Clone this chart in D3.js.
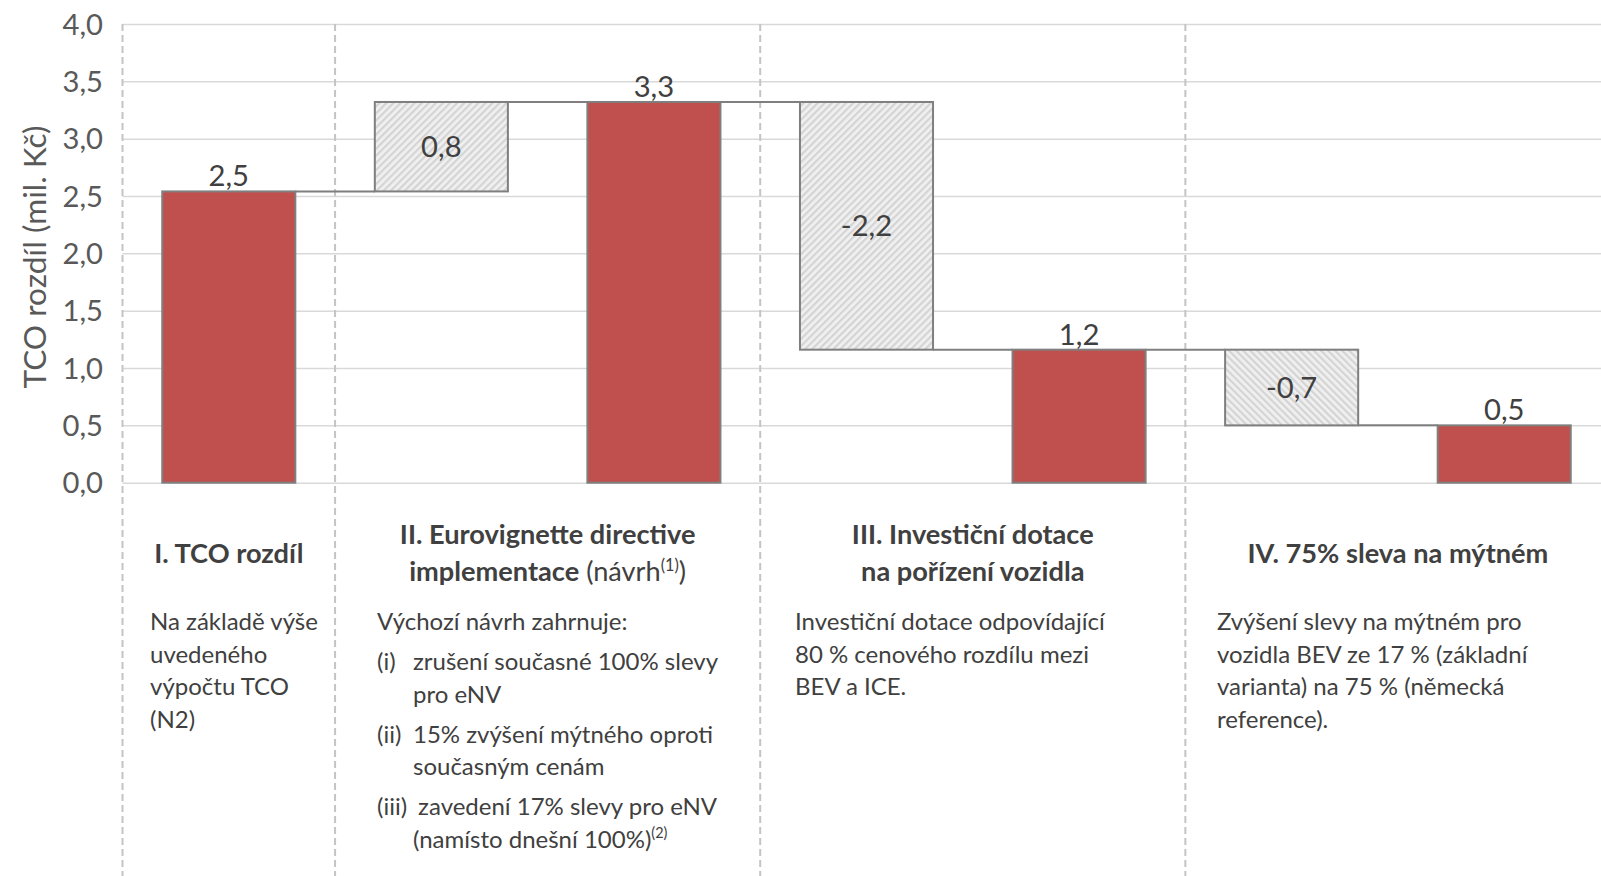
<!DOCTYPE html>
<html><head><meta charset="utf-8">
<script src="https://cdn.jsdelivr.net/npm/d3@7"></script>
<style>body{margin:0;background:#fff}svg{display:block}</style>
</head><body><svg id="c" width="1601" height="876"></svg>
<script>
// ---------------- DATA ----------------
const categories = ["TCO rozdíl", "Eurovignette změna", "Eurovignette výsledek",
  "Dotace změna", "Dotace výsledek", "Sleva změna", "Sleva výsledek"];
const barKinds = ["total", "delta", "total", "delta", "total", "delta", "total"];
const barValues = [2.54, 0.78, 3.32, -2.16, 1.16, -0.66, 0.50];
const groupOf = [0, 1, 1, 2, 2, 3, 3];
const yTicks = [0, 0.5, 1, 1.5, 2, 2.5, 3, 3.5, 4];
const yTitle = "TCO rozdíl (mil. Kč)";
const groupHeaders = [
  [[{t: "I. TCO rozdíl", b: 1}]],
  [[{t: "II. Eurovignette directive", b: 1}],
   [{t: "implementace", b: 1}, {t: " (návrh"}, {t: "(1)", sup: 1}, {t: ")"}]],
  [[{t: "III. Investiční dotace", b: 1}], [{t: "na pořízení vozidla", b: 1}]],
  [[{t: "IV. 75% sleva na mýtném", b: 1}]]
];
const groupBodies = [
  [{lines: ["Na základě výše", "uvedeného", "výpočtu TCO", "(N2)"]}],
  [{lines: ["Výchozí návrh zahrnuje:"]},
   {marker: "(i)", lines: ["zrušení současné 100% slevy", "pro eNV"]},
   {marker: "(ii)", lines: ["15% zvýšení mýtného oproti", "současným cenám"]},
   {marker: "(iii)", lines: ["zavedení 17% slevy pro eNV", "(namísto dnešní 100%)"], sup: "(2)"}],
  [{lines: ["Investiční dotace odpovídající", "80 % cenového rozdílu mezi", "BEV a ICE."]}],
  [{lines: ["Zvýšení slevy na mýtném pro", "vozidla BEV ze 17 % (základní", "varianta) na 75 % (německá", "reference)."]}]
];

// ---------------- LAYOUT ----------------
const W = 1601, H = 876;
const FONT = "Lato, 'Open Sans', sans-serif";
const svg = d3.select("#c");
svg.append("rect").attr("width", W).attr("height", H).attr("fill", "#fff");

const y = d3.scaleLinear().domain([0, 4]).range([482.7, 24]);
const x = d3.scaleBand().domain(categories).range([122.5, 1610.5])
  .paddingInner(0.374).paddingOuter(0.187);
const bw = x.bandwidth(), step = x.step(), gap = step * x.paddingInner();

const loc = d3.formatLocale({decimal: ",", thousands: " ", grouping: [3], currency: ["", ""], minus: "-"});
const fmt = loc.format(".1f");

function fit(text, weight, target) {
  const t = svg.append("text").attr("font-family", FONT).attr("font-weight", weight)
    .attr("font-size", 100).text(text);
  const w = t.node().getComputedTextLength();
  t.remove();
  return 100 * target / w;
}
const fsNum = fit("4,0", 400, 40.5);
const fsTitle = fit(yTitle, 400, 263);
const fsHead = fit("III. Investiční dotace", 700, 242);
const fsBody = fit("Investiční dotace odpovídající", 400, 310);

// patterns
const defs = svg.append("defs");
[["hatchA", 45], ["hatchB", -45]].forEach(([id, ang]) => {
  const p = defs.append("pattern").attr("id", id).attr("patternUnits", "userSpaceOnUse")
    .attr("width", 5).attr("height", 5).attr("patternTransform", `rotate(${ang})`);
  p.append("rect").attr("width", 5).attr("height", 5).attr("fill", "#f0f0f0");
  p.append("rect").attr("width", 2.2).attr("height", 5).attr("fill", "#d4d4d4");
});

// gridlines
const grid = svg.append("g").attr("transform", "translate(122.5,0)")
  .call(d3.axisLeft(y).tickValues(yTicks).tickSize(-(W - 122.5)).tickFormat(""));
grid.select(".domain").remove();
grid.selectAll("line").attr("stroke", "#d9d9d9").attr("stroke-width", 1.5);

// tick labels
const ax = svg.append("g").attr("transform", "translate(103,0)")
  .call(d3.axisLeft(y).tickValues(yTicks).tickSize(0).tickPadding(0).tickFormat(fmt));
ax.select(".domain").remove();
ax.selectAll("text").attr("font-family", FONT).attr("font-size", fsNum)
  .attr("fill", "#595959").attr("dy", "0.35em");

// y title
svg.append("text").attr("transform", "translate(46,257) rotate(-90)")
  .attr("text-anchor", "middle").attr("font-family", FONT).attr("font-size", fsTitle)
  .attr("fill", "#595959").text(yTitle);

// dividers
const divX = [x.range()[0]];
for (let i = 0; i < categories.length - 1; i++) {
  if (groupOf[i] !== groupOf[i + 1]) divX.push(x(categories[i]) + bw + gap / 2);
}
svg.append("g").selectAll("line").data(divX).join("line")
  .attr("x1", d => d).attr("x2", d => d).attr("y1", y(4)).attr("y2", H)
  .attr("stroke", "#c4c4c4").attr("stroke-width", 2).attr("stroke-dasharray", "7,4");

// waterfall computations
let level = 0;
const bars = barValues.map((v, i) => {
  let a, b;
  if (barKinds[i] === "total") { a = 0; b = v; level = v; }
  else { a = level; b = level + v; level = b; }
  return {cat: categories[i], kind: barKinds[i], v, lo: Math.min(a, b), hi: Math.max(a, b), end: level, i};
});

// connectors
svg.append("g").selectAll("line").data(bars.slice(0, -1)).join("line")
  .attr("x1", d => x(d.cat) + bw).attr("x2", (d, i) => x(categories[i + 1]))
  .attr("y1", d => y(d.end)).attr("y2", d => y(d.end))
  .attr("stroke", "#7f7f7f").attr("stroke-width", 2);

// bars
svg.append("g").selectAll("rect").data(bars).join("rect")
  .attr("x", d => x(d.cat)).attr("width", bw)
  .attr("y", d => y(d.hi)).attr("height", d => y(d.lo) - y(d.hi))
  .attr("fill", d => d.kind === "total" ? "#c0504d" : (d.i === 5 ? "url(#hatchB)" : "url(#hatchA)"))
  .attr("stroke", "#7f7f7f").attr("stroke-width", 2);

// value labels
svg.append("g").selectAll("text").data(bars).join("text")
  .attr("x", d => x(d.cat) + bw / 2)
  .attr("y", d => d.kind === "total" ? y(d.hi) - 5 : (y(d.hi) + y(d.lo)) / 2)
  .attr("dy", d => d.kind === "total" ? 0 : "0.36em")
  .attr("text-anchor", "middle").attr("font-family", FONT).attr("font-size", fsNum)
  .attr("fill", "#404040").text(d => fmt(d.v));

// group extents
const groups = d3.range(4).map(g => {
  const idx = groupOf.map((v, i) => v === g ? i : -1).filter(i => i >= 0);
  const left = x(categories[idx[0]]) - gap / 2;
  const right = x(categories[idx[idx.length - 1]]) + bw + gap / 2;
  return {left, right, center: (left + right) / 2};
});

// headers
const headG = svg.append("g").attr("font-family", FONT).attr("fill", "#404040");
groupHeaders.forEach((lines, g) => {
  const base = lines.length === 1 ? [563] : [544, 581];
  lines.forEach((segs, li) => {
    const t = headG.append("text").attr("x", groups[g].center).attr("y", base[li])
      .attr("text-anchor", "middle").attr("font-size", fsHead);
    let shifted = false;
    segs.forEach(s => {
      const ts = t.append("tspan").text(s.t).attr("font-weight", s.b ? 700 : 400);
      if (s.sup) { ts.attr("font-size", fsHead * 0.6).attr("dy", -fsHead * 0.38); shifted = true; }
      else if (shifted) { ts.attr("dy", fsHead * 0.38); shifted = false; }
    });
  });
});

// bodies
const bodyX = [150, 377, 795, 1217];
const bodyG = svg.append("g").attr("font-family", FONT).attr("fill", "#404040").attr("font-size", fsBody);
const lineH = 32.5, paraGap = 7.5;
groupBodies.forEach((paras, g) => {
  let yy = 630;
  paras.forEach((p, pi) => {
    if (pi > 0) yy += paraGap;
    let tx = bodyX[g];
    if (p.marker) {
      const m = bodyG.append("text").attr("x", bodyX[g]).attr("y", yy).text(p.marker);
      const mw = m.node().getComputedTextLength();
      tx = Math.max(bodyX[g] + 36, bodyX[g] + mw + 11);
    }
    p.lines.forEach((ln, li) => {
      const lx = (p.marker && li > 0) ? bodyX[g] + 36 : tx;
      const t = bodyG.append("text").attr("x", lx).attr("y", yy).text(ln);
      if (p.sup && li === p.lines.length - 1) {
        t.append("tspan").attr("font-size", fsBody * 0.6).attr("dy", -fsBody * 0.38).text(p.sup);
      }
      yy += lineH;
    });
  });
});
</script></body></html>
